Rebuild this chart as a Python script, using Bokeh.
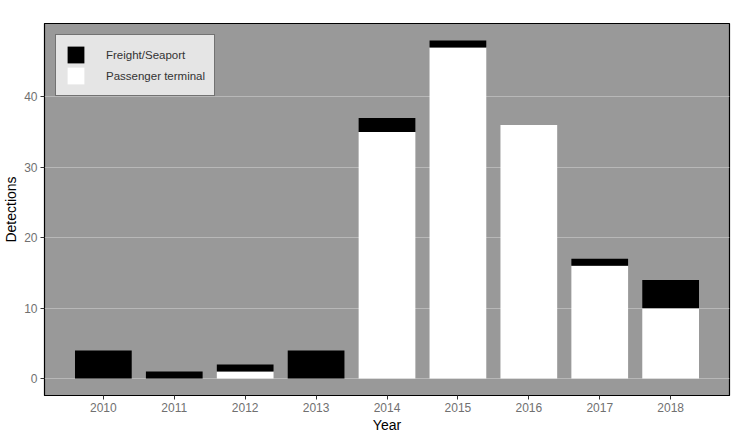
from bokeh.plotting import figure
from bokeh.models import ColumnDataSource, Range1d, FixedTicker, Legend, LegendItem
from bokeh.embed import file_html
from bokeh.resources import INLINE

years = [2010, 2011, 2012, 2013, 2014, 2015, 2016, 2017, 2018]
passenger = [0, 0, 1, 0, 35, 47, 36, 16, 10]
freight = [4, 1, 1, 4, 2, 1, 0, 1, 4]
y_ticks = [0, 10, 20, 30, 40]

src = ColumnDataSource(dict(year=years, passenger=passenger, freight=freight))

FONT = "Liberation Sans"

p = figure(frame_width=685, frame_height=372, output_backend="svg", toolbar_location=None,
           x_range=Range1d(2009.17, 2018.83), y_range=Range1d(-2.4, 50.4),
           min_border_left=38, min_border_right=16, min_border_top=23, min_border_bottom=36)

p.background_fill_color = "#999999"
p.border_fill_color = "white"
p.outline_line_color = "black"
p.outline_line_width = 1.2

rs = p.vbar_stack(["passenger", "freight"], x="year", width=0.8, source=src,
                  color=["white", "black"], line_color=None)

p.xgrid.visible = False
p.ygrid.grid_line_color = "#b8b8b8"
p.ygrid.grid_line_width = 1
p.ygrid.ticker = FixedTicker(ticks=y_ticks)

p.xaxis.ticker = FixedTicker(ticks=years)
p.yaxis.ticker = FixedTicker(ticks=y_ticks)
for ax in (p.xaxis, p.yaxis):
    ax.axis_line_color = "black"
    ax.major_tick_line_color = "#333333"
    ax.major_tick_in = 0
    ax.major_tick_out = 4
    ax.minor_tick_line_color = None
    ax.major_label_text_font = FONT
    ax.major_label_text_font_size = "12px"
    ax.major_label_text_color = "#707070"
    ax.axis_label_text_font = FONT
    ax.axis_label_text_font_size = "14px"
    ax.axis_label_text_font_style = "normal"
    ax.axis_label_text_color = "black"
    ax.major_label_standoff = 3
    ax.axis_label_standoff = 2

p.xaxis.axis_label = "Year"
p.yaxis.axis_label = "Detections"

legend = Legend(items=[LegendItem(label="Freight/Seaport", renderers=[rs[1]]),
                       LegendItem(label="Passenger terminal", renderers=[rs[0]])],
                location="top_left", margin=11, padding=9, spacing=0,
                glyph_width=21, glyph_height=21, label_standoff=20,
                label_text_font=FONT, label_text_font_size="11.5px",
                label_text_color="#333333",
                background_fill_color="#e5e5e5", background_fill_alpha=1,
                border_line_color="black", border_line_width=1.2)
p.add_layout(legend)

open("out.html", "w").write(file_html(p, INLINE))
